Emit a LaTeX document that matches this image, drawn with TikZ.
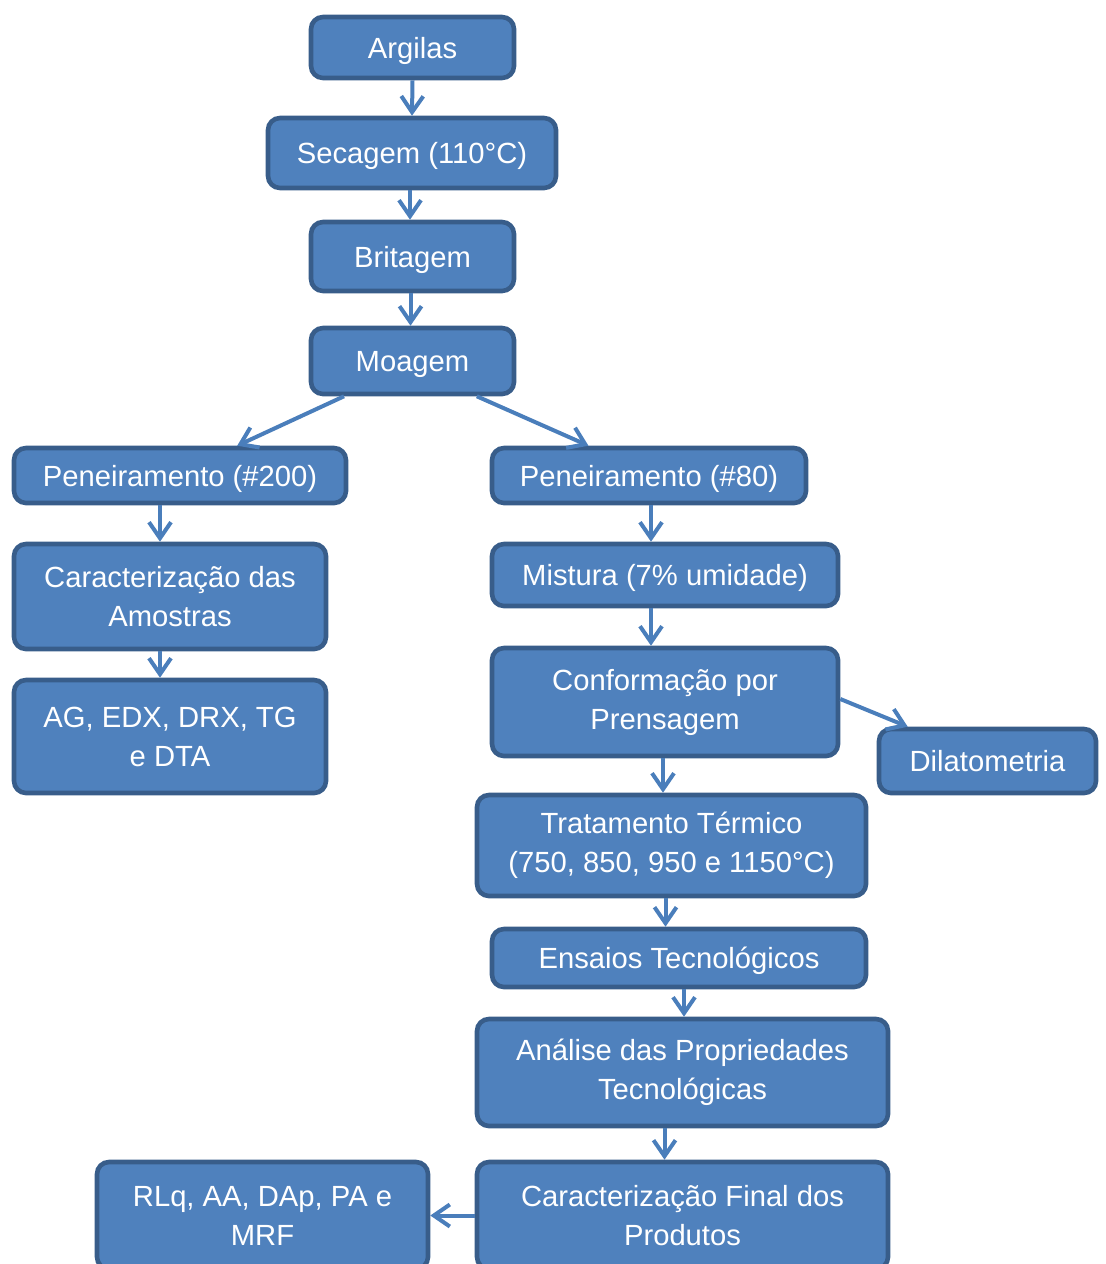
\documentclass[tikz,border=0pt]{standalone}
\usepackage{fontspec}
\setmainfont{Liberation Sans}
\usetikzlibrary{arrows.meta,positioning,calc}
\definecolor{BoxFill}{HTML}{4F81BD}
\definecolor{BoxLine}{HTML}{385D8A}
\definecolor{Link}{HTML}{4A7EBB}

\begin{document}
\begin{tikzpicture}[x=0.5pt,y=-0.5pt,
  stepbox/.style={draw=BoxLine,fill=BoxFill,line width=2.3pt,rounded corners=6pt,text=white,align=center,inner sep=0pt,font=\fontsize{14.6}{19.5}\selectfont},
  oneline/.style={stepbox,text depth=0pt},
  link/.style={draw=Link,line width=2pt,-{Straight Barb[length=8pt,width=11pt]}}]
\useasboundingbox (0,0) rectangle (1105,1264);
% main column
\node[oneline,minimum width=101.5pt,minimum height=30.5pt] (arg) at (412.5,47.5) {Argilas};
\node[oneline,minimum width=144pt,minimum height=35pt] (sec) at (412,153) {Secagem (110°C)};
\node[oneline,minimum width=101.5pt,minimum height=34.5pt] (bri) at (412.5,256.5) {Britagem};
\node[oneline,minimum width=101.5pt,minimum height=33pt] (moa) at (412.5,361) {Moagem};
% left branch
\node[oneline,minimum width=166pt,minimum height=27.5pt] (pen2) at (180,475.5) {Peneiramento (\#200)};
\node[stepbox,minimum width=156pt,minimum height=52.5pt] (car) at (170,596.5) {Caracterização das\\Amostras};
\node[stepbox,minimum width=156pt,minimum height=56.5pt] (ag) at (170,736.5) {AG, EDX, DRX, TG\\e DTA};
% right branch
\node[oneline,minimum width=157pt,minimum height=27.5pt] (pen8) at (649,475.5) {Peneiramento (\#80)};
\node[oneline,minimum width=173pt,minimum height=31pt] (mis) at (665,575) {Mistura (7\% umidade)};
\node[stepbox,minimum width=173pt,minimum height=54pt] (con) at (665,702) {Conformação por\\Prensagem};
\node[oneline,minimum width=108.5pt,minimum height=32pt] (dil) at (987.5,761) {Dilatometria};
\node[stepbox,minimum width=194.5pt,minimum height=50.5pt] (tra) at (671.5,845.5) {Tratamento Térmico\\(750, 850, 950 e 1150°C)};
\node[oneline,minimum width=187pt,minimum height=29pt] (ens) at (679,958) {Ensaios Tecnológicos};
\node[stepbox,minimum width=205.5pt,minimum height=53.5pt] (ana) at (682.5,1072.5) {Análise das Propriedades\\Tecnológicas};
\node[stepbox,minimum width=205.5pt,minimum height=53.5pt] (fin) at (682.5,1215.5) {Caracterização Final dos\\Produtos};
\node[stepbox,minimum width=165.5pt,minimum height=53.5pt] (rlq) at (262.5,1215.5) {RLq, AA, DAp, PA e\\MRF};
% connectors
\draw[link] (arg.south) -- (sec.north);
\draw[link] ([xshift=-1pt]sec.south) -- ([xshift=-1pt]sec.south |- bri.north);
\draw[link] ([xshift=-1pt]bri.south) -- ([xshift=-1pt]bri.south |- moa.north);
\draw[link] ($(moa.south west)!0.17!(moa.south east)$) -- ($(pen2.north west)!0.67!(pen2.north east)$);
\draw[link] ($(moa.south west)!0.81!(moa.south east)$) -- ($(pen8.north west)!0.31!(pen8.north east)$);
\draw[link] ([xshift=-10pt]pen2.south) -- ([xshift=-10pt]pen2.south |- car.north);
\draw[link] ([xshift=-5pt]car.south) -- ([xshift=-5pt]car.south |- ag.north);
\draw[link] ([xshift=1pt]pen8.south) -- ([xshift=1pt]pen8.south |- mis.north);
\draw[link] ([xshift=-7pt]mis.south) -- ([xshift=-7pt]mis.south |- con.north);
\draw[link] ([xshift=-1pt]con.south) -- ([xshift=-1pt]con.south |- tra.north);
\draw[link] ([xshift=-3pt]tra.south) -- ([xshift=-3pt]tra.south |- ens.north);
\draw[link] ([xshift=2.5pt]ens.south) -- ([xshift=2.5pt]ens.south |- ana.north);
\draw[link] ([xshift=-9pt]ana.south) -- ([xshift=-9pt]ana.south |- fin.north);
\draw[link] ([yshift=1.5pt]con.east) -- ($(dil.north west)!0.14!(dil.north east)$);
\draw[link] (fin.west) -- (rlq.east);
\end{tikzpicture}
\end{document}
